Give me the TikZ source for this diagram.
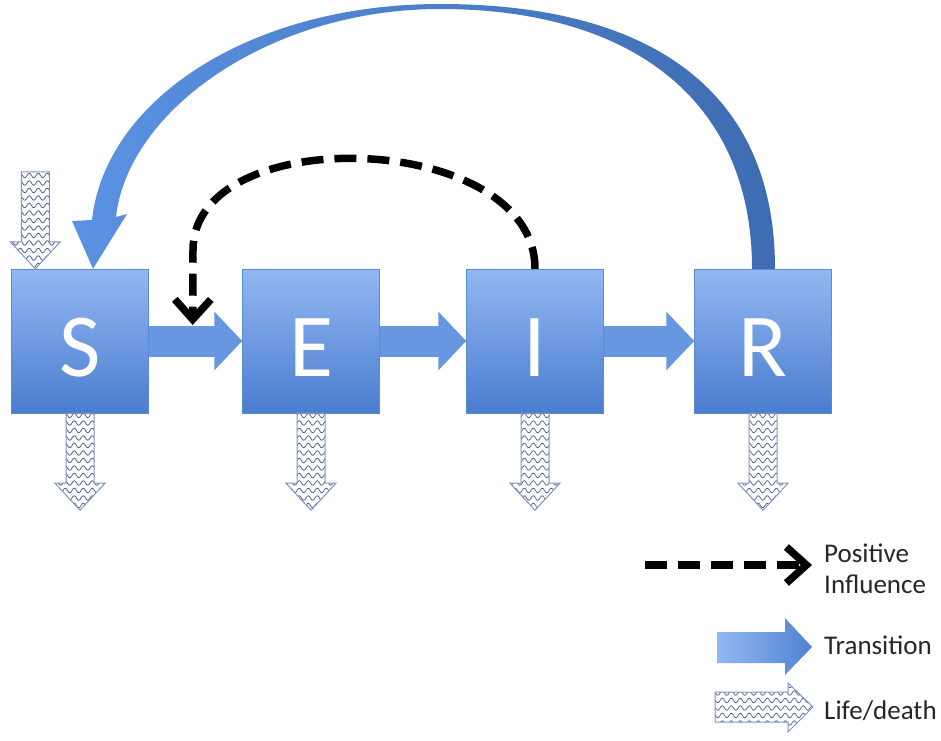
\documentclass[tikz,border=0pt]{standalone}
\usepackage{fontspec}
\setmainfont{Carlito}
\usetikzlibrary{arrows.meta,calc,patterns}

\definecolor{boxtop}{HTML}{93B8F2}
\definecolor{boxbottom}{HTML}{4A7DCF}
\definecolor{transblue}{HTML}{6797E0}
\definecolor{transdark}{HTML}{4F82D2}
\definecolor{arcleft}{HTML}{5A92E2}
\definecolor{arcright}{HTML}{3E6CB2}
\definecolor{lifeline}{HTML}{7F95BF}
\definecolor{lifewave}{HTML}{4E6088}

\pgfdeclarepatternformonly{lifewaves}{\pgfpoint{-1pt}{-1pt}}{\pgfpoint{10pt}{8pt}}{\pgfpoint{9pt}{7.5pt}}{
\pgfsetlinewidth{0.7pt}
\pgfpathmoveto{\pgfpoint{0pt}{2pt}}
\pgfpathcurveto{\pgfpoint{1.5pt}{5pt}}{\pgfpoint{3pt}{5pt}}{\pgfpoint{4.5pt}{2pt}}
\pgfpathcurveto{\pgfpoint{6pt}{-1pt}}{\pgfpoint{7.5pt}{-1pt}}{\pgfpoint{9pt}{2pt}}
\pgfusepath{stroke}
}

\tikzset{
compart/.style={minimum width=137pt,minimum height=144pt,inner sep=0pt,
  top color=boxtop,bottom color=boxbottom,draw=boxbottom!90,
  text=white,font=\fontsize{90}{90}\selectfont,text height=70pt,text depth=0pt},
transit/.style={draw=transblue,line width=31pt,-{Triangle[length=28pt,width=57pt]}},
influence/.style={line width=7.5pt,dash pattern=on 22pt off 11pt,
  -{Straight Barb[length=20pt,width=36pt]}},
life/.style={draw=lifeline,line width=1pt,pattern=lifewaves,pattern color=lifewave},
legendtext/.style={anchor=west,font=\fontsize{27}{31}\selectfont,text=black!85,align=left,inner sep=0pt}
}

\newcommand{\lifedown}[1]{\path[life] #1 ++(-14,0) -- ++(0,70) -- ++(-11,0) -- ++(25,27) -- ++(25,-27) -- ++(-11,0) -- ++(0,-70) -- cycle;}

\begin{document}
\begin{tikzpicture}[x=1pt,y=-1pt]
\useasboundingbox (0,0) rectangle (941,740);

\node[compart] (S) at (80,341) {S};
\node[compart] (E) at (311,341) {E};
\node[compart] (I) at (535,341) {I};
\node[compart] (R) at (763,341) {R};

\draw[transit] (S.east) -- (E.west);
\draw[transit] (E.east) -- (I.west);
\draw[transit] (I.east) -- (R.west);

\shade[left color=arcleft,right color=arcright]
  ($(R.north)+(12,0)$) .. controls (775,90) and (650,4) .. (440,4)
  .. controls (250,4) and (105,100) .. (92,220)
  -- (72,221) -- ($(S.north)+(13,0)$) -- (127,214) -- (116,217)
  .. controls (128,110) and (270,9) .. (440,9)
  .. controls (630,9) and ($(R.north)+(-11,-170)$) .. ($(R.north)+(-11,0)$) -- cycle;

\coordinate (hit) at ($(S.east)!0.47!(E.west)+(0,-16)$);
\draw[influence] (I.north) .. controls (535,130) and (193,120) .. (193,250) -- (hit);

\lifedown{($(S.north west)+(24,-97)$)}
\foreach \n in {S,E,I,R}
{
\lifedown{(\n.south)}
}

\coordinate (infa) at (645,565);
\coordinate (infb) at (812,565);
\draw[influence] (infa) -- (infb);
\node[legendtext] (posinf) at (824,569) {Positive\\Influence};

\shade[left color=boxtop,right color=transdark] (717,632) -- (785,632) -- (785,618) -- (812,647) -- (785,675) -- (785,663) -- (717,663) -- cycle;
\node[legendtext] (trans) at (824,645) {Transition};

\path[life] (715,692) -- (788,692) -- (788,683) -- (813,707) -- (788,732) -- (788,722) -- (715,722) -- cycle;
\node[legendtext] (lifedeath) at (824,711) {Life/death};

\end{tikzpicture}
\end{document}
